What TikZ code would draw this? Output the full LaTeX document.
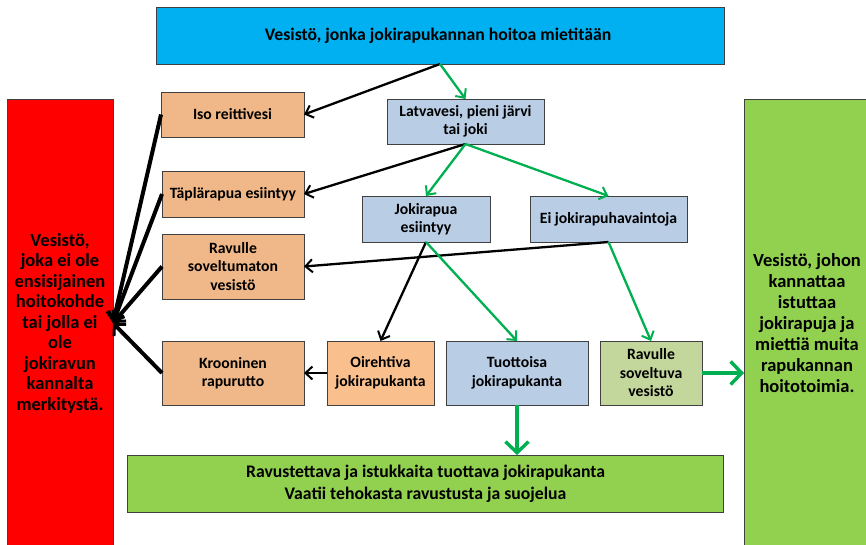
\documentclass[tikz,border=0pt]{standalone}
\usepackage{fontspec}
\setmainfont{Carlito}
\usepackage{xcolor}
\definecolor{topcyan}{HTML}{00B0F0}
\definecolor{stopred}{HTML}{FF0000}
\definecolor{goodgreen}{HTML}{92D050}
\definecolor{peach}{HTML}{F0B888}
\definecolor{lightpeach}{HTML}{F9C08E}
\definecolor{paleblue}{HTML}{B9CDE5}
\definecolor{olive}{HTML}{C3D69B}
\definecolor{arrowgreen}{HTML}{00B050}
\definecolor{edgegray}{HTML}{404040}
\usetikzlibrary{positioning,calc,arrows.meta}

\begin{document}
\begin{tikzpicture}[
        x=1pt, y=-1pt,
        box/.style={draw=edgegray, line width=1pt, inner sep=2pt, outer sep=0pt, align=center,
            font=\fontsize{15.7}{18.5}\selectfont\bfseries},
        orangebox/.style={box, fill=peach},
        bluebox/.style={box, fill=paleblue},
        yes/.style={-{Straight Barb[length=7pt,width=13pt,line width=2pt]}, line width=2.3pt, arrowgreen},
        no/.style={-{Straight Barb[length=7pt,width=13pt,line width=2pt]}, line width=2.3pt, black},
        bigyes/.style={-{Straight Barb[length=11pt,width=23pt,line width=3.4pt]}, line width=4.8pt, arrowgreen},
        fan/.style={-{Straight Barb[length=8pt,width=17pt,line width=3pt]}, line width=4pt, black},
    ]
    \useasboundingbox (0,0) rectangle (866,544);

    % === Outcome columns ===
    \node[box, fill=stopred, minimum width=106pt, minimum height=448pt,
        font=\fontsize{18.5}{20.5}\selectfont\bfseries] (notarget) at (60,323) {
        Vesistö,\\ joka ei ole\\ ensisijainen\\ hoitokohde\\ tai jolla ei\\ ole\\ jokiravun\\ kannalta\\ merkitystä.
    };
    \node[box, fill=goodgreen, minimum width=126pt, minimum height=448pt,
        font=\fontsize{18.5}{21}\selectfont\bfseries] (stocking) at (807,323) {
        Vesistö, johon\\ kannattaa\\ istuttaa\\ jokirapuja ja\\ miettiä muita\\ rapukannan\\ hoitotoimia.
    };

    % === Start ===
    \node[box, fill=topcyan, minimum width=568pt, minimum height=57pt,
        font=\fontsize{17.7}{20}\selectfont\bfseries] (start) at (440,35.5) {
        Vesistö, jonka jokirapukannan hoitoa mietitään
    };

    % === Excluding conditions ===
    \node[orangebox, minimum width=143pt, minimum height=45pt] (route) at (232.5,114.5) {Iso reittivesi};
    \node[orangebox, minimum width=142pt, minimum height=46pt] (signal) at (233,194) {Täplärapua esiintyy};
    \node[orangebox, minimum width=142pt, minimum height=65pt] (unsuited) at (233,266.5) {Ravulle\\ soveltumaton\\ vesistö};
    \node[orangebox, minimum width=142pt, minimum height=64pt] (plague) at (233,373) {Krooninen\\ rapurutto};

    % === Decision path ===
    \node[bluebox, minimum width=157pt, minimum height=45pt] (headwater) at (465.5,121.5) {Latvavesi, pieni järvi\\ tai joki};
    \node[bluebox, minimum width=128pt, minimum height=46pt] (present) at (426,219) {Jokirapua\\ esiintyy};
    \node[bluebox, minimum width=157pt, minimum height=46pt] (absent) at (608.5,219) {Ei jokirapuhavaintoja};

    \node[box, fill=lightpeach, minimum width=107pt, minimum height=64pt] (symptoms) at (380.5,373) {Oirehtiva\\ jokirapukanta};
    \node[bluebox, minimum width=142pt, minimum height=64pt] (productive) at (517,373) {Tuottoisa\\ jokirapukanta};
    \node[box, fill=olive, minimum width=102pt, minimum height=64pt] (suited) at (651,373) {Ravulle\\ soveltuva\\ vesistö};

    \node[box, fill=goodgreen, minimum width=596pt, minimum height=57pt,
        font=\fontsize{17.7}{22}\selectfont\bfseries] (harvest) at (425.5,483.5) {
        Ravustettava ja istukkaita tuottava jokirapukanta\\
        Vaatii tehokasta ravustusta ja suojelua
    };

    % === Connectors ===
    \draw[no] (start.south) -- (route.east);
    \draw[yes] (start.south) -- (headwater.north);
    \draw[no] (headwater.south) -- (signal.east);
    \draw[yes] (headwater.south) -- (present.north);
    \draw[yes] (headwater.south) -- (absent.north);
    \draw[no] (absent.south) -- (unsuited.east);
    \draw[no] (present.south) -- (symptoms.north);
    \draw[yes] (present.south) -- (productive.north);
    \draw[yes] (absent.south) -- (suited.north);
    \draw[no] (symptoms.west) -- (plague.east);
    \draw[bigyes] (suited.east) -- (suited.east -| stocking.west);
    \draw[bigyes] (productive.south) -- (productive.south |- harvest.north);

    \coordinate (hub) at (notarget.east);
    \foreach \src in {route, signal, unsuited, plague}
        \draw[fan] (\src.west) -- (hub);

    \end{tikzpicture}
\end{document}
